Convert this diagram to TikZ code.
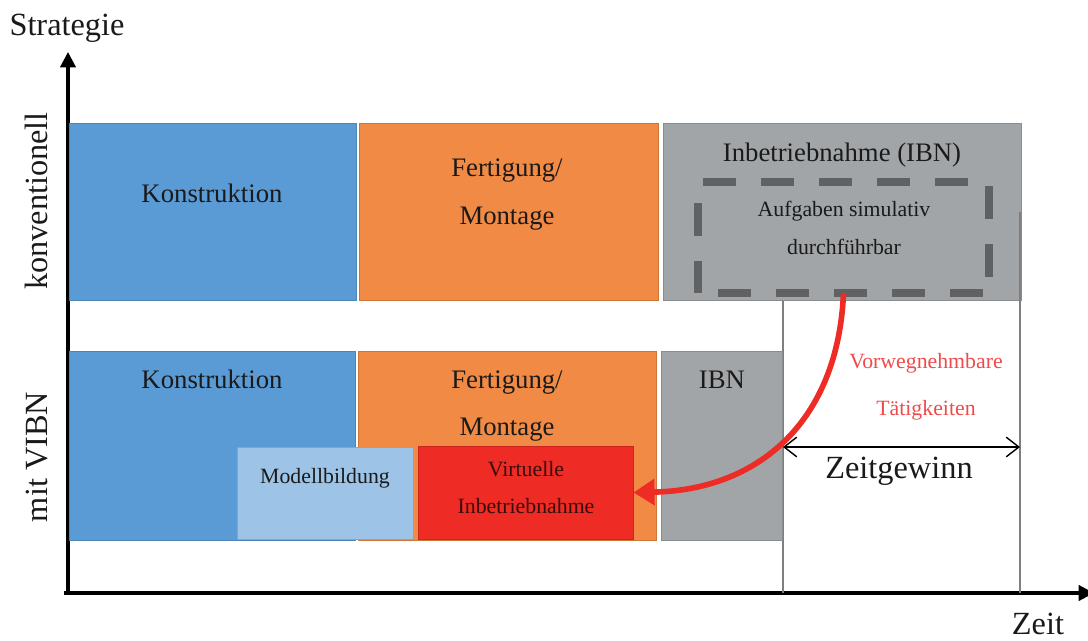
\documentclass[tikz,border=0pt]{standalone}
\usepackage{fontspec}
\setmainfont{Liberation Serif}
\usetikzlibrary{arrows.meta,fit}
\definecolor{cblue}{HTML}{5B9BD5}
\definecolor{corange}{HTML}{F18A45}
\definecolor{cgray}{HTML}{A2A5A7}
\definecolor{clight}{HTML}{9DC3E6}
\definecolor{cred}{HTML}{EE2B24}
\definecolor{cdash}{HTML}{5F6163}
\definecolor{ctext}{HTML}{1A1A1A}
\definecolor{cpink}{HTML}{F04A4C}
\definecolor{cvtext}{HTML}{3A0C0A}
\definecolor{cline}{HTML}{7F7F7F}
\begin{document}
\begin{tikzpicture}[x=0.025cm,y=-0.025cm,
  phasebox/.style={inner sep=0pt, draw=#1!85!black, line width=0.6pt, fill=#1},
  biglbl/.style={font=\fontsize{23}{26}\selectfont, text=ctext, inner sep=0pt, anchor=base},
  midlbl/.style={font=\fontsize{19}{22}\selectfont, text=ctext, inner sep=0pt, anchor=base},
  smalllbl/.style={font=\fontsize{15.5}{18}\selectfont, text=ctext, inner sep=0pt, anchor=base},
  dsh/.style={cdash, line width=5pt, dash pattern=on 23.5pt off 17.8pt},
  axis/.style={line width=2.2pt, black, -{Triangle[length=11pt,width=11pt]}},
  guide/.style={cline, line width=1pt},
]
\useasboundingbox (0,0) rectangle (1088,640);

% axes
\coordinate (origin) at (68,593);
\coordinate (ytip) at (68,52);
\coordinate (xstart) at (64,593);
\coordinate (xtip) at (1094,593);
\draw[axis] (origin) -- (ytip);
\draw[axis] (xstart) -- (xtip);
\node[biglbl] (strat) at (67,35) {Strategie};
\node[biglbl] (zeit) at (1038,634) {Zeit};
\node[biglbl, rotate=90] (konv) at (48,201) {konventionell};
\node[biglbl, rotate=90] (mvibn) at (48,457) {mit VIBN};

% guide lines
\coordinate (g1t) at (783,300);
\coordinate (g1b) at (783,593);
\coordinate (g2t) at (1020,212);
\coordinate (g2b) at (1020,593);
\draw[guide] (g1t) -- (g1b);

% top row
\node[phasebox=cblue, fit={(69,123)(356,300)}] (k1) {};
\node[phasebox=corange, fit={(359,123)(658,300)}] (f1) {};
\node[phasebox=cgray, fit={(663,123)(1021,300)}] (i1) {};
\draw[guide] (g2t) -- (g2b);
\node[midlbl] (k1t) at (212,202) {Konstruktion};
\node[midlbl] (f1a) at (507,176) {Fertigung/};
\node[midlbl] (f1b) at (507,224) {Montage};
\node[midlbl] (i1t) at (842,161) {Inbetriebnahme (IBN)};

% dashed box
\node[inner sep=0pt, fit={(698,182)(989,293)}] (dash) {};
\draw[dsh] (703,182) -- (968,182);
\draw[dsh] (718,293) -- (983,293);
\draw[dsh] (698,203) -- (698,293);
\draw[dsh] (989,186) -- (989,277);
\node[smalllbl] (auf1) at (844,216) {Aufgaben simulativ};
\node[smalllbl] (auf2) at (844,254) {durchführbar};

% bottom row
\node[phasebox=cblue, fit={(69,351)(355,540)}] (k2) {};
\node[phasebox=corange, fit={(358,351)(656,540)}] (f2) {};
\node[phasebox=cgray, fit={(661,351)(782,540)}] (i2) {};
\node[midlbl] (k2t) at (212,388) {Konstruktion};
\node[midlbl] (f2a) at (507,388) {Fertigung/};
\node[midlbl] (f2b) at (507,435) {Montage};
\node[midlbl] (i2t) at (722,388) {IBN};
\node[phasebox=clight, fit={(237,447)(413,539)}] (mod) {};
\node[phasebox=cred, fit={(418,446)(633,539)}] (vibn) {};
\node[smalllbl] (modt) at (325,483) {Modellbildung};
\node[smalllbl, text=cvtext] (v1) at (526,476) {Virtuelle};
\node[smalllbl, text=cvtext] (v2) at (526,513) {Inbetriebnahme};

% right side labels
\node[smalllbl, text=cpink] (vw1) at (926,368) {Vorwegnehmbare};
\node[smalllbl, text=cpink] (vw2) at (926,415) {Tätigkeiten};
\coordinate (zg1) at (783,447);
\coordinate (zg2) at (1020,447);
\draw[line width=1pt, black, {Straight Barb[length=9pt,width=14pt]}-{Straight Barb[length=9pt,width=14pt]}] (zg1) -- (zg2);
\node[biglbl] (zgt) at (899,478) {Zeitgewinn};

% red arrow
\draw[cred, line width=4pt, -{Triangle[length=15pt,width=18pt]}] (dash.south) .. controls (838,420) and (760,490) .. (vibn.east);
\end{tikzpicture}
\end{document}
